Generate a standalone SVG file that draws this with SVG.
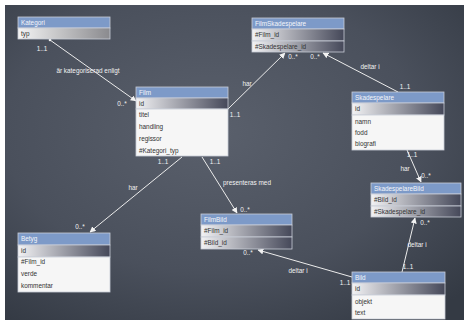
<svg xmlns="http://www.w3.org/2000/svg" width="464" height="320" viewBox="0 0 464 320">
<defs>
<radialGradient id="bg" cx="45%" cy="40%" r="75%">
<stop offset="0" stop-color="#5a606c"/>
<stop offset="0.6" stop-color="#4a505c"/>
<stop offset="1" stop-color="#343a44"/>
</radialGradient>
<linearGradient id="g" x1="0" y1="0" x2="1" y2="0">
<stop offset="0" stop-color="#f2f2f4"/>
<stop offset="1" stop-color="#454859"/>
</linearGradient>
<linearGradient id="g2" x1="0" y1="0" x2="1" y2="0">
<stop offset="0" stop-color="#f4f4f4"/>
<stop offset="1" stop-color="#8a8a8e"/>
</linearGradient>
<marker id="ah" viewBox="0 0 10 10" refX="9" refY="5" markerWidth="6" markerHeight="6" markerUnits="userSpaceOnUse" orient="auto">
<path d="M0,0 L10,5 L0,10 z" fill="#f2f2f2"/>
</marker>
</defs>
<style>
.hd{fill:#7d9ac8;stroke:#c9ced8;stroke-width:0.8}
.gr{fill:url(#g);stroke:#c9ced8;stroke-width:0.8}
.wh{fill:#f6f6f6;stroke:#c9ced8;stroke-width:0.8}
text{font-family:"Liberation Sans","DejaVu Sans",sans-serif;font-size:6.4px}
.ht{fill:#f4f6fb}
.rt{fill:#333}
.lb{fill:#f2f2f2;text-anchor:middle}
.ln{stroke:#ececec;stroke-width:1;fill:none;marker-end:url(#ah)}
</style>
<rect x="0" y="0" width="464" height="320" fill="#ffffff"/>
<rect x="5" y="5" width="459" height="315" fill="url(#bg)"/>

<g id="connectors">
<line class="ln" x1="50" y1="40" x2="136" y2="101"/>
<circle cx="50" cy="40" r="1.3" fill="#f2f2f2"/>
<line class="ln" x1="228" y1="109" x2="285" y2="53"/>
<line class="ln" x1="398" y1="92" x2="323" y2="53"/>
<line class="ln" x1="407" y1="150" x2="421" y2="182"/>
<line class="ln" x1="402" y1="272" x2="415" y2="218"/>
<line class="ln" x1="352" y1="277" x2="258" y2="250"/>
<line class="ln" x1="202" y1="157" x2="237" y2="213"/>
<line class="ln" x1="182" y1="157" x2="90" y2="232"/>
<text class="lb" x="42" y="51">1..1</text>
<text class="lb" x="88" y="73">är kategoriserad enligt</text>
<text class="lb" x="122" y="106">0..*</text>
<text class="lb" x="247" y="86">har</text>
<text class="lb" x="235" y="117">1..1</text>
<text class="lb" x="293" y="59">0..*</text>
<text class="lb" x="315" y="59">0..*</text>
<text class="lb" x="370" y="69">deltar i</text>
<text class="lb" x="405" y="89">1..1</text>
<text class="lb" x="412" y="157">1..1</text>
<text class="lb" x="405" y="171">har</text>
<text class="lb" x="426" y="178">0..*</text>
<text class="lb" x="425" y="225">0..*</text>
<text class="lb" x="417" y="247">deltar i</text>
<text class="lb" x="408" y="269">1..1</text>
<text class="lb" x="248" y="255">0..*</text>
<text class="lb" x="298" y="273">deltar i</text>
<text class="lb" x="345" y="285">1..1</text>
<text class="lb" x="215" y="164">1..1</text>
<text class="lb" x="247" y="185">presenteras med</text>
<text class="lb" x="245" y="212">0..*</text>
<text class="lb" x="163" y="164">1..1</text>
<text class="lb" x="133" y="190">har</text>
<text class="lb" x="80" y="229">0..*</text>
</g>

<g id="Kategori">
<rect class="hd" x="18" y="17" width="92" height="11"/>
<rect x="18" y="28" width="92" height="11" fill="url(#g2)" stroke="#c9ced8" stroke-width="0.8"/>
<text class="ht" x="21" y="24.7">Kategori</text>
<text class="rt" x="21" y="35.7">typ</text>
</g>

<g id="Film">
<rect class="hd" x="136" y="87" width="92" height="11"/>
<rect class="gr" x="136" y="98" width="92" height="11"/>
<rect class="wh" x="136" y="109" width="92" height="47"/>
<text class="ht" x="139" y="94.7">Film</text>
<text class="rt" x="139" y="105.7">id</text>
<text class="rt" x="139" y="117.2">titel</text>
<text class="rt" x="139" y="129.2">handling</text>
<text class="rt" x="139" y="141.2">regissor</text>
<text class="rt" x="139" y="153.2">#Kategori_typ</text>
</g>

<g id="FilmSkadespelare">
<rect class="hd" x="252" y="18" width="92" height="11"/>
<rect class="gr" x="252" y="29" width="92" height="12"/>
<rect class="gr" x="252" y="41" width="92" height="11"/>
<text class="ht" x="255" y="25.7">FilmSkadespelare</text>
<text class="rt" x="255" y="37.2">#Film_id</text>
<text class="rt" x="255" y="48.7">#Skadespelare_id</text>
</g>

<g id="Skadespelare">
<rect class="hd" x="352" y="92" width="92" height="11"/>
<rect class="gr" x="352" y="103" width="92" height="12"/>
<rect class="wh" x="352" y="115" width="92" height="35"/>
<text class="ht" x="355" y="99.7">Skadespelare</text>
<text class="rt" x="355" y="111.2">id</text>
<text class="rt" x="355" y="124.2">namn</text>
<text class="rt" x="355" y="135.2">fodd</text>
<text class="rt" x="355" y="146.2">biografi</text>
</g>

<g id="SkadespelareBild">
<rect class="hd" x="371" y="183" width="90" height="11"/>
<rect class="gr" x="371" y="194" width="90" height="12"/>
<rect class="gr" x="371" y="206" width="90" height="11"/>
<text class="ht" x="374" y="190.7">SkadespelareBild</text>
<text class="rt" x="374" y="202.2">#Bild_id</text>
<text class="rt" x="374" y="213.7">#Skadespelare_id</text>
</g>

<g id="Bild">
<rect class="hd" x="352" y="272" width="93" height="11"/>
<rect class="gr" x="352" y="283" width="93" height="12"/>
<rect class="wh" x="352" y="295" width="93" height="24"/>
<text class="ht" x="355" y="279.7">Bild</text>
<text class="rt" x="355" y="291.2">id</text>
<text class="rt" x="355" y="304.2">objekt</text>
<text class="rt" x="355" y="315.2">text</text>
</g>

<g id="Betyg">
<rect class="hd" x="18" y="233" width="92" height="12"/>
<rect class="gr" x="18" y="245" width="92" height="12"/>
<rect class="wh" x="18" y="257" width="92" height="35"/>
<text class="ht" x="21" y="241.2">Betyg</text>
<text class="rt" x="21" y="253.2">id</text>
<text class="rt" x="21" y="264.2">#Film_id</text>
<text class="rt" x="21" y="276.2">verde</text>
<text class="rt" x="21" y="288.2">kommentar</text>
</g>

<g id="FilmBild">
<rect class="hd" x="201" y="214" width="91" height="11"/>
<rect class="gr" x="201" y="225" width="91" height="12"/>
<rect class="gr" x="201" y="237" width="91" height="12"/>
<text class="ht" x="204" y="221.7">FilmBild</text>
<text class="rt" x="204" y="233.2">#Film_id</text>
<text class="rt" x="204" y="245.2">#Bild_id</text>
</g>
</svg>
